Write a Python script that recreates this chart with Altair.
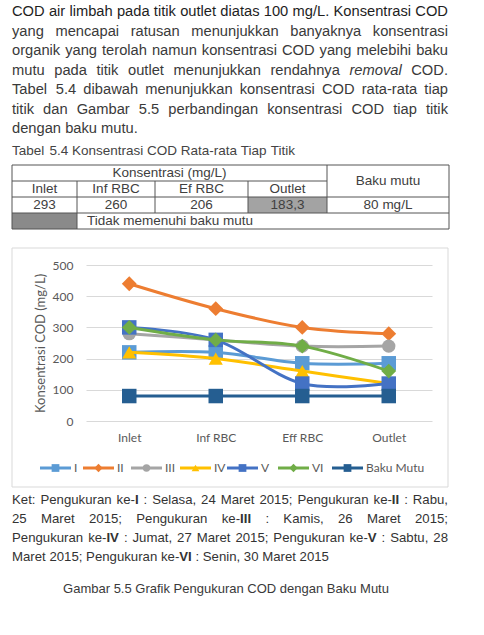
import altair as alt
import pandas as pd

# ---------------- data ----------------
points = ["Inlet", "Inf RBC", "Eff RBC", "Outlet"]
series = ["I", "II", "III", "IV", "V", "VI", "Baku Mutu"]
val_I = [220, 220, 185, 185]
val_II = [440, 360, 300, 280]
val_III = [280, 260, 240, 240]
val_IV = [220, 200, 160, 120]
val_V = [300, 260, 120, 120]
val_VI = [300, 260, 240, 160]
val_baku = [80, 80, 80, 80]
all_vals = [val_I, val_II, val_III, val_IV, val_V, val_VI, val_baku]
y_ticks = [0, 100, 200, 300, 400, 500]

colors = ["#5B9BD5", "#ED7D31", "#A5A5A5", "#FFC000", "#4472C4", "#70AD47", "#255E91"]
shapes = ["square", "diamond", "circle", "triangle-up", "square", "diamond", "square"]
msizes = [210, 220, 180, 200, 210, 220, 210]
lsizes = [60, 70, 55, 60, 60, 70, 60]

paragraph = [
    "COD air limbah pada titik outlet diatas 100 mg/L. Konsentrasi COD",
    "yang mencapai ratusan menunjukkan banyaknya konsentrasi",
    "organik yang terolah namun konsentrasi COD yang melebihi baku",
    "mutu pada titik outlet menunjukkan rendahnya _removal_ COD.",
    "Tabel 5.4 dibawah menunjukkan konsentrasi COD rata-rata tiap",
    "titik dan Gambar 5.5 perbandingan konsentrasi COD tiap titik",
    "dengan baku mutu.",
]
table_caption = "Tabel 5.4 Konsentrasi COD Rata-rata Tiap Titik"
table_header = "Konsentrasi (mg/L)"
table_cols = ["Inlet", "Inf RBC", "Ef RBC", "Outlet"]
table_vals = ["293", "260", "206", "183,3"]
table_baku_head = "Baku mutu"
table_baku_val = "80 mg/L"
table_note = "Tidak memenuhi baku mutu"
ket = [
    "Ket: Pengukuran ke-*I* : Selasa, 24 Maret 2015; Pengukuran ke-*II* : Rabu,",
    "25 Maret 2015; Pengukuran ke-*III* : Kamis, 26 Maret 2015;",
    "Pengukuran ke-*IV* : Jumat, 27 Maret 2015; Pengukuran ke-*V* : Sabtu, 28",
    "Maret 2015; Pengukuran ke-*VI* : Senin, 30 Maret 2015",
]
figure_caption = "Gambar 5.5 Grafik Pengukuran COD dengan Baku Mutu"

# ---------------- layout helpers ----------------
W = {c: 556 for c in "abdeghnopqu0123456789"}
W.update({"c": 500, "f": 278, "i": 222, "j": 222, "k": 500, "l": 222, "m": 833,
          "r": 333, "s": 500, "t": 278, "v": 500, "w": 722, "x": 500, "y": 500, "z": 500,
          "A": 667, "B": 667, "C": 722, "D": 722, "E": 667, "F": 611, "G": 778, "H": 722,
          "I": 278, "J": 500, "K": 667, "L": 556, "M": 833, "N": 722, "O": 778, "P": 667,
          "Q": 778, "R": 722, "S": 667, "T": 611, "U": 722, "V": 667, "W": 944, "X": 667,
          "Y": 667, "Z": 611, " ": 278, ".": 278, ",": 278, ":": 278, ";": 278, "/": 278,
          "-": 333, "(": 333, ")": 333})


def tw(s, fs):
    return sum(W.get(ch, 556) for ch in s) * fs / 1000.0


def segments(word):
    segs, cur, style = [], "", "regular"
    for ch in word:
        if ch in "*_":
            if cur:
                segs.append((cur, style))
            cur = ""
            mark = "bold" if ch == "*" else "italic"
            style = "regular" if style == mark else mark
        else:
            cur += ch
    if cur:
        segs.append((cur, style))
    return segs


rows = []


def put_line(line, y, fs, col, left=12, right=448, justify=True):
    words = [segments(w) for w in line.split(" ")]
    widths = [sum(tw(t, fs) for t, _ in w) for w in words]
    if justify and len(words) > 1:
        gap = (right - left - sum(widths)) / (len(words) - 1)
    else:
        gap = tw(" ", fs)
    x = left
    for w, wd in zip(words, widths):
        xx = x
        for t, st in w:
            rows.append({"px": xx, "py": y, "text": t, "fs": fs, "col": col, "style": st})
            xx += tw(t, fs)
        x += wd + gap


def put_center(text, cx, y, fs, col):
    rows.append({"px": cx - tw(text, fs) / 2, "py": y, "text": text, "fs": fs,
                 "col": col, "style": "regular"})


for i, line in enumerate(paragraph):
    put_line(line, 12.2 + 19.5 * i, 14.7, "#1e1e1e" if i == 0 else "#3a3a3a",
             justify=(i < len(paragraph) - 1))
put_line(table_caption, 151, 13.5, "#444444", justify=False)

col_edges = [12, 77, 155, 248, 327, 449]
row_edges = [165, 181, 197, 213, 229]
tcol = "#404040"
put_center(table_header, (col_edges[0] + col_edges[4]) / 2, 173, 13.5, tcol)
for j, (c, v) in enumerate(zip(table_cols, table_vals)):
    cx = (col_edges[j] + col_edges[j + 1]) / 2
    put_center(c, cx, 189, 13.5, tcol)
    put_center(v, cx, 205, 13.5, tcol)
put_center(table_baku_head, (col_edges[4] + col_edges[5]) / 2, 181, 13.5, tcol)
put_center(table_baku_val, (col_edges[4] + col_edges[5]) / 2, 205, 13.5, tcol)
rows.append({"px": 87, "py": 221, "text": table_note, "fs": 13.5, "col": tcol, "style": "regular"})

for i, line in enumerate(ket):
    put_line(line, 499.5 + 19 * i, 13.2, "#333333", justify=(i < len(ket) - 1))
put_center(figure_caption, 226, 589, 13, "#3a3a3a")

text_df = pd.DataFrame(rows)

# pixel-space scales (page coordinates), plot area = x 86..432, y 265..421
PX = alt.Scale(domain=[86, 432], nice=False, zero=False)
PY = alt.Scale(domain=[265, 421], nice=False, zero=False, reverse=True)


def pxy(xf="px", yf="py"):
    return dict(x=alt.X(f"{xf}:Q", scale=PX, axis=None), y=alt.Y(f"{yf}:Q", scale=PY, axis=None))


text_layers = []
for st in ["regular", "bold", "italic"]:
    d = text_df[text_df["style"] == st]
    if len(d) == 0:
        continue
    mk = dict(align="left", baseline="middle", font="Liberation Sans")
    if st == "bold":
        mk["fontWeight"] = "bold"
    if st == "italic":
        mk["fontStyle"] = "italic"
    text_layers.append(
        alt.Chart(d).mark_text(**mk).encode(
            **pxy(), text="text:N", size=alt.Size("fs:Q", scale=None),
            color=alt.Color("col:N", scale=None)))

# table fills and lines
fills = pd.DataFrame([
    {"x1": col_edges[3], "x2": col_edges[4], "y1": row_edges[2], "y2": row_edges[3], "c": "#a3a3a3"},
    {"x1": col_edges[0], "x2": col_edges[1], "y1": row_edges[3], "y2": row_edges[4], "c": "#8a8a8a"},
])
fill_layer = alt.Chart(fills).mark_rect().encode(
    x=alt.X("x1:Q", scale=PX, axis=None), x2="x2:Q",
    y=alt.Y("y1:Q", scale=PY, axis=None), y2="y2:Q", color=alt.Color("c:N", scale=None))

hl = [(col_edges[0], col_edges[5], row_edges[0]), (col_edges[0], col_edges[4], row_edges[1]),
      (col_edges[0], col_edges[5], row_edges[2]), (col_edges[0], col_edges[5], row_edges[3]),
      (col_edges[0], col_edges[5], row_edges[4])]
vl = [(col_edges[0], row_edges[0], row_edges[4]), (col_edges[5], row_edges[0], row_edges[4]),
      (col_edges[4], row_edges[0], row_edges[3]), (col_edges[1], row_edges[1], row_edges[4]),
      (col_edges[2], row_edges[1], row_edges[3]), (col_edges[3], row_edges[1], row_edges[3])]
lines_df = pd.DataFrame([{"x1": a, "x2": b, "y1": y, "y2": y} for a, b, y in hl] +
                        [{"x1": x, "x2": x, "y1": a, "y2": b} for x, a, b in vl])
table_lines = alt.Chart(lines_df).mark_rule(color="#555555", strokeWidth=1).encode(
    x=alt.X("x1:Q", scale=PX, axis=None), x2="x2:Q",
    y=alt.Y("y1:Q", scale=PY, axis=None), y2="y2:Q")

frame = alt.Chart(pd.DataFrame([{"x1": 12, "x2": 448, "y1": 248, "y2": 487}])).mark_rect(
    fillOpacity=0, stroke="#d9d9d9", strokeWidth=1).encode(
    x=alt.X("x1:Q", scale=PX, axis=None), x2="x2:Q",
    y=alt.Y("y1:Q", scale=PY, axis=None), y2="y2:Q")

# legend (custom, Excel style)
leg_x = [40, 83, 131, 180, 227, 278, 332]
leg_y = 468
leg_df = pd.DataFrame([{"x1": lx, "x2": lx + 31, "xm": lx + 15.5, "xt": lx + 34, "y": leg_y,
                        "c": c, "sh": sh, "sz": sz, "name": s}
                       for lx, c, sh, sz, s in zip(leg_x, colors, shapes, lsizes, series)])
leg_lines = alt.Chart(leg_df).mark_rule(strokeWidth=3).encode(
    x=alt.X("x1:Q", scale=PX, axis=None), x2="x2:Q",
    y=alt.Y("y:Q", scale=PY, axis=None), color=alt.Color("c:N", scale=None))
leg_pts = alt.Chart(leg_df).mark_point(filled=True, opacity=1).encode(
    x=alt.X("xm:Q", scale=PX, axis=None), y=alt.Y("y:Q", scale=PY, axis=None),
    color=alt.Color("c:N", scale=None), shape=alt.Shape("sh:N", scale=None),
    size=alt.Size("sz:Q", scale=None))
leg_txt = alt.Chart(leg_df).mark_text(align="left", baseline="middle", font="Lato",
                                      fontSize=12, color="#595959").encode(
    x=alt.X("xt:Q", scale=PX, axis=None), y=alt.Y("y:Q", scale=PY, axis=None), text="name:N")

# ---------------- line chart ----------------
data_rows = []
for s, vals in zip(series, all_vals):
    for p, v in zip(points, vals):
        data_rows.append({"series": s, "point": p, "value": v})
df = pd.DataFrame(data_rows)

xenc = alt.X("point:N", sort=points, scale=alt.Scale(type="point", padding=0.5),
             axis=alt.Axis(title=None, labelFont="Lato", labelFontSize=12, labelColor="#595959",
                           ticks=False, domain=False, labelPadding=11, labelAngle=0, grid=False))
yenc = alt.Y("value:Q", scale=alt.Scale(domain=[0, 500], nice=False),
             axis=alt.Axis(values=y_ticks, title="Konsentrasi COD (mg/L)", titleFont="Lato",
                           titleFontSize=13, titleFontWeight="normal", titleColor="#595959",
                           labelFont="Lato", labelFontSize=12, labelColor="#595959",
                           grid=True, gridColor="#d9d9d9", gridWidth=1, domain=False,
                           ticks=False, labelPadding=13, titlePadding=5))

series_layers = []
for s, c, sh, sz in zip(series, colors, shapes, msizes):
    base = alt.Chart(df[df["series"] == s]).encode(x=xenc, y=yenc)
    series_layers.append(base.mark_line(color=c, strokeWidth=3, interpolate="cardinal"))
    series_layers.append(base.mark_point(shape=sh, filled=True, color=c, size=sz, opacity=1))
core = alt.layer(*series_layers)

chart = alt.layer(
    frame, fill_layer, table_lines, core, *text_layers, leg_lines, leg_pts, leg_txt
).resolve_scale(x="independent", y="independent").properties(
    width=346, height=156, autosize="none",
    padding={"left": 86, "top": 265, "right": 52, "bottom": 214},
    background="white",
).configure_view(stroke=None)

chart.save("out.html", embed_options={"renderer": "svg", "actions": False})
